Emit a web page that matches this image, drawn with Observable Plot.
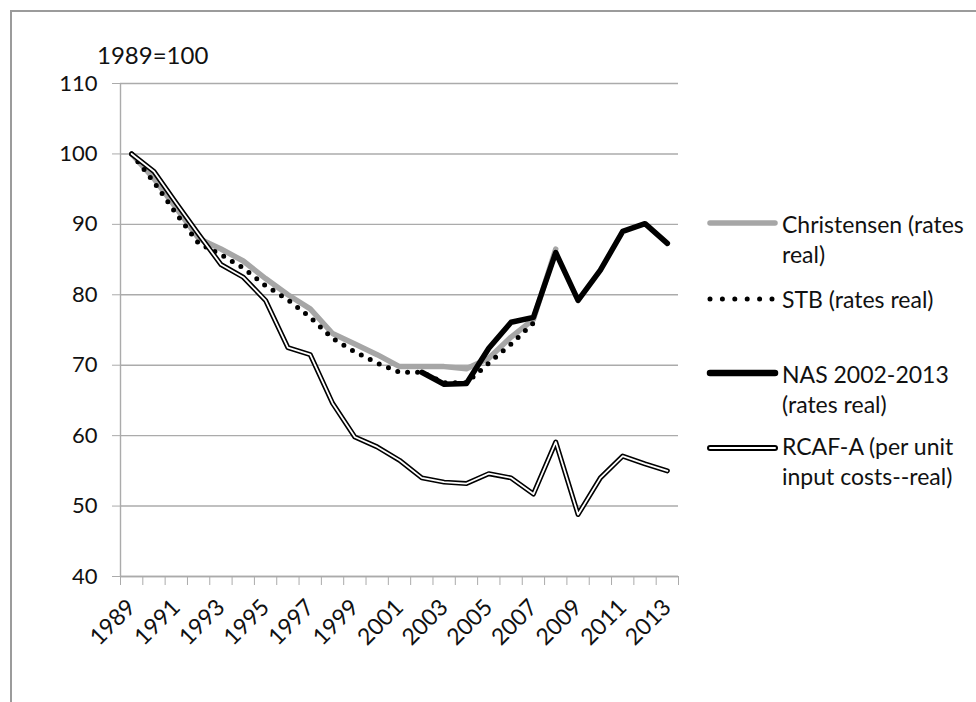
<!DOCTYPE html>
<html><head><meta charset="utf-8">
<script src="https://cdn.jsdelivr.net/npm/d3@7"></script>
<script src="https://cdn.jsdelivr.net/npm/@observablehq/plot@0.6"></script>
<style>
body{margin:0;background:#fff;}
#wrap{position:relative;width:976px;height:702px;overflow:hidden;font-family:Lato,sans-serif;background:#fff;}
#border{position:absolute;left:10px;top:10px;width:990px;height:720px;border-left:2px solid #9b9b9b;border-top:2px solid #9b9b9b;}
#chart{position:absolute;left:0;top:0;}
#overlay{position:absolute;left:0;top:0;}
</style>
</head><body>
<div id="wrap"><div id="border"></div><div id="chart"></div><svg id="overlay" width="976" height="702"></svg></div>
<script>
const years = [1989,1990,1991,1992,1993,1994,1995,1996,1997,1998,1999,2000,2001,2002,2003,2004,2005,2006,2007,2008,2009,2010,2011,2012,2013];
const christensen = [100,96.5,92.3,88,86.5,84.8,82.3,80,78,74.5,73,71.5,69.8,69.8,69.8,69.5,71,74,76.5,86.5,null,null,null,null,null];
const stb = [100,96,91.5,87.3,85.7,83.8,81.3,79.3,76.8,73.8,71.9,70.3,69,69,67.5,67.5,70.3,73,76,null,null,null,null,null,null];
const nas = [null,null,null,null,null,null,null,null,null,null,null,null,null,69,67.3,67.4,72.4,76.1,76.8,86,79.2,83.5,89,90.1,87.3];
const rcaf = [100,97.5,93,88.6,84.3,82.5,79.2,72.5,71.5,64.6,59.8,58.4,56.5,54,53.4,53.2,54.6,54,51.7,59.1,48.8,54,57.1,56,55];
const yTicks = [40,50,60,70,80,90,100,110];
const xLabels = [1989,1991,1993,1995,1997,1999,2001,2003,2005,2007,2009,2011,2013];
const seriesNames = ["Christensen (rates real)","STB (rates real)","NAS 2002-2013 (rates real)","RCAF-A (per unit input costs--real)"];
const yLabel = "1989=100";

const rows = arr => years.map((yr,i)=>({year:yr, v:arr[i]}));
const boundaries = years.map(y=>y-0.5).concat([years[years.length-1]+0.5]);
const grid = "#ababab";

const chart = Plot.plot({
  width: 976, height: 702,
  marginLeft: 120, marginRight: 298, marginTop: 83, marginBottom: 126,
  style: {fontFamily: "Lato, sans-serif", fontSize: "22px", color: "#111", background: "transparent"},
  x: {domain: [1988.5, 2013.5]},
  y: {domain: [40, 110]},
  marks: [
    Plot.gridY(yTicks, {stroke: grid, strokeOpacity: 1, strokeWidth: 1.4}),
    Plot.ruleX([1988.5], {stroke: grid, strokeWidth: 1.4}),
    Plot.ruleY([40], {stroke: grid, strokeWidth: 1.4}),
    Plot.axisY(yTicks, {tickSize: 8, tickPadding: 15, stroke: grid, strokeOpacity: 1, label: null, fontSize: 22, fill: "#111"}),
    Plot.axisX(boundaries, {tickSize: 9, stroke: grid, strokeOpacity: 1, tickFormat: () => "", label: null}),
    Plot.axisX(xLabels, {tickSize: 0, tickPadding: 27, tickRotate: -45, tickFormat: d => String(d), label: null, fontSize: 23, fill: "#111"}),
    Plot.line(rows(christensen), {x: "year", y: "v", stroke: "#a6a6a6", strokeWidth: 5.5, strokeLinejoin: "round", strokeLinecap: "round"}),
    Plot.line(rows(stb), {x: "year", y: "v", stroke: "#000", strokeWidth: 5, strokeDasharray: "0 10", strokeLinecap: "round", strokeLinejoin: "round"}),
    Plot.line(rows(nas), {x: "year", y: "v", stroke: "#000", strokeWidth: 5.5, strokeLinejoin: "round", strokeLinecap: "round"}),
    Plot.line(rows(rcaf), {x: "year", y: "v", stroke: "#000", strokeWidth: 5, strokeLinejoin: "round", strokeLinecap: "round"}),
    Plot.line(rows(rcaf), {x: "year", y: "v", stroke: "#fff", strokeWidth: 1.8, strokeLinejoin: "round", strokeLinecap: "round"})
  ]
});
document.getElementById("chart").appendChild(chart);

// title and legend overlay
const ov = d3.select("#overlay").style("font-family","Lato, sans-serif");
ov.append("text").attr("x", 97).attr("y", 64).attr("font-size", 24).attr("fill", "#111").text(yLabel);

const legend = [
  {lines: ["Christensen (rates", "real)"], y: 223, base: 233, kind: "gray"},
  {lines: ["STB (rates real)"], y: 299, base: 308, kind: "dot"},
  {lines: ["NAS 2002-2013", "(rates real)"], y: 373, base: 383, kind: "black"},
  {lines: ["RCAF-A (per unit", "input costs--real)"], y: 448, base: 455, kind: "double"}
];
const x0 = 710, x1 = 775;
legend.forEach(l => {
  const g = ov.append("g");
  const seg = () => g.append("line").attr("x1", x0).attr("x2", x1).attr("y1", l.y).attr("y2", l.y).attr("stroke-linecap","round");
  if (l.kind === "gray") seg().attr("stroke", "#a6a6a6").attr("stroke-width", 5.5);
  if (l.kind === "dot") seg().attr("stroke", "#000").attr("stroke-width", 5).attr("stroke-dasharray", "0 12.4");
  if (l.kind === "black") seg().attr("stroke", "#000").attr("stroke-width", 6.5);
  if (l.kind === "double") { seg().attr("stroke", "#000").attr("stroke-width", 6); seg().attr("stroke", "#fff").attr("stroke-width", 2); }
  l.lines.forEach((t, i) => g.append("text").attr("x", 782).attr("y", l.base + i * 30).attr("font-size", 23).attr("fill", "#111").text(t));
});
</script>
</body></html>
